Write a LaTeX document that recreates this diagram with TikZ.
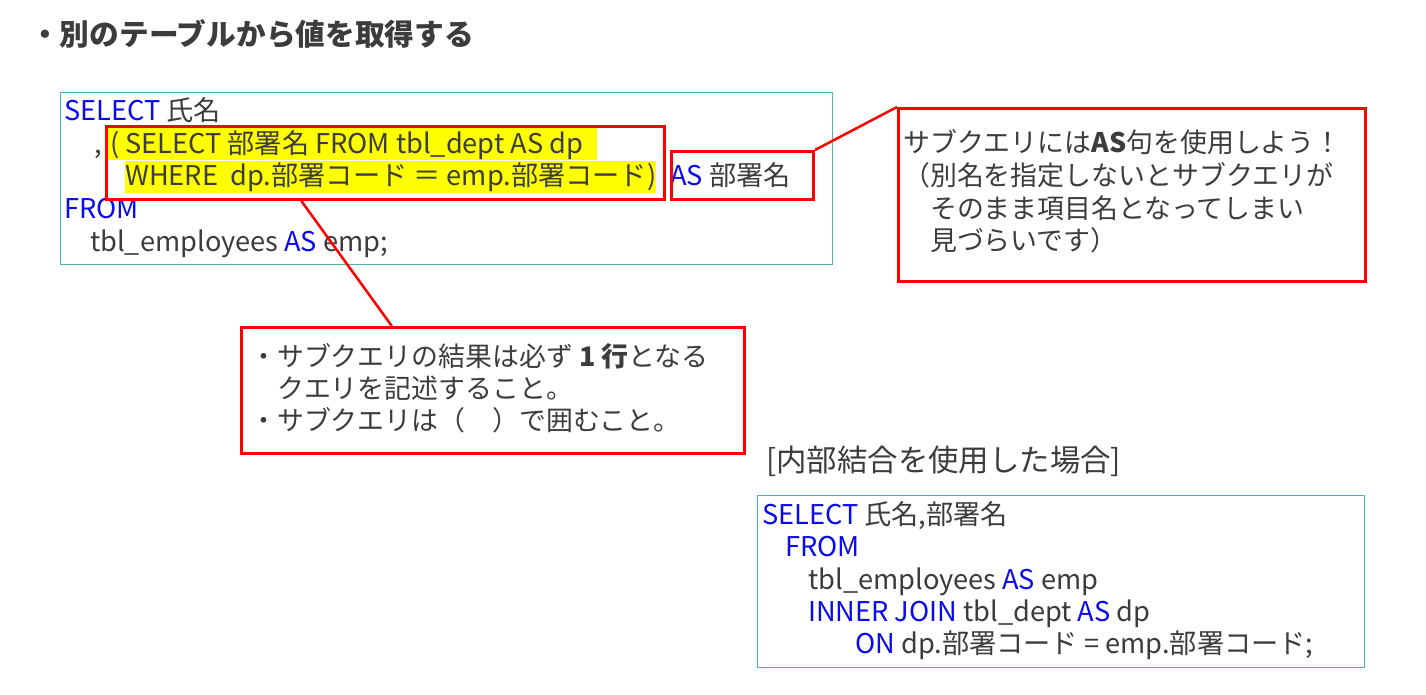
\documentclass[tikz,border=0pt]{standalone}
\usepackage{fontspec}
\setmainfont{Noto Sans CJK JP}
\usetikzlibrary{calc}
\definecolor{txt}{RGB}{60,60,60}
\definecolor{kwc}{RGB}{10,10,240}
\definecolor{tealbd}{RGB}{80,182,172}
\definecolor{hlc}{RGB}{255,255,0}
\definecolor{redc}{RGB}{255,0,0}
\newcommand{\KW}[1]{\textcolor{kwc}{#1}}
\begin{document}
\begin{tikzpicture}[x=1pt,y=-1pt,
  codebox/.style={draw=tealbd, line width=1.2pt, inner sep=0pt, anchor=north west},
  redbox/.style={draw=redc, line width=3pt, inner sep=0pt, anchor=north west},
  hlbox/.style={fill=hlc, inner sep=0pt, anchor=north west},
  code/.style={anchor=base west, inner sep=0pt, text=txt, font=\fontsize{27.2}{32}\selectfont},
  note/.style={anchor=base west, inner sep=0pt, text=txt, font=\fontsize{26.9}{32}\selectfont},
  conn/.style={draw=redc, line width=2.5pt}]
\useasboundingbox[fill=white] (0,0) rectangle (1426,694);
% title
\node[anchor=base west, inner sep=0pt, text=txt, font=\fontsize{29.7}{34}\selectfont\bfseries] (title) at (30,45) {・別のテーブルから値を取得する};
% code box 1
\node[codebox, minimum width=772pt, minimum height=172pt] (box1) at (60,92) {};
\node[hlbox, minimum width=489pt, minimum height=32pt] (hl1) at (108,128) {};
\node[hlbox, minimum width=531pt, minimum height=32pt] (hl2) at (125,161) {};
\node[code] (l1) at (64,120) {\KW{SELECT} 氏名};
\node[code] (l2a) at (94,153) {,};
\node[code] (l2) at (110,153) {( SELECT 部署名 FROM tbl\_dept AS dp};
\node[code] (l3) at (125,185) {WHERE\ \ dp.部署コード ＝ emp.部署コード)};
\node[code] (l3b) at (670,185) {\KW{AS} 部署名};
\node[code] (l4) at (64,218) {\KW{FROM}};
\node[code] (l5) at (90,251) {tbl\_employees \KW{AS} emp;};
% red boxes
\node[redbox, minimum width=558pt, minimum height=73pt] (sub) at (105,125) {};
\node[redbox, minimum width=142pt, minimum height=48pt] (asb) at (670,150) {};
% callouts
\node[redbox, minimum width=467pt, minimum height=173pt] (c1) at (897,107) {};
\node[redbox, minimum width=503pt, minimum height=126pt] (c2) at (240,326) {};
\draw[conn] (asb.north east) -- (c1.north west);
\draw[conn] ($(sub.south west)!0.35!(sub.south east)$) -- ($(c2.north west)!0.3!(c2.north east)$);
\node[note] (t1) at (903,152) {サブクエリには\textbf{AS}句を使用しよう！};
\node[note] (t2) at (903,185) {（別名を指定しないとサブクエリが};
\node[note] (t3) at (903,218) {　そのまま項目名となってしまい};
\node[note] (t4) at (903,250) {　見づらいです）};
\node[note] (b1) at (250,366) {・サブクエリの結果は必ず \textbf{1 行}となる};
\node[note] (b2) at (250,398) {　クエリを記述すること。};
\node[note] (b3) at (250,430) {・サブクエリは（　）で囲むこと。};
% inner join
\node[anchor=base west, inner sep=0pt, text=txt, font=\fontsize{30.4}{36}\selectfont] (h2) at (766,471) {[内部結合を使用した場合]};
\node[codebox, minimum width=607pt, minimum height=172pt] (box2) at (757,495) {};
\node[code] (m1) at (762,524) {\KW{SELECT} 氏名,部署名};
\node[code] (m2) at (785,556) {\KW{FROM}};
\node[code] (m3) at (808,589) {tbl\_employees \KW{AS} emp};
\node[code] (m4) at (808,621) {\KW{INNER JOIN} tbl\_dept \KW{AS} dp};
\node[code] (m5) at (855,653) {\KW{ON} dp.部署コード = emp.部署コード;};
\end{tikzpicture}
\end{document}
